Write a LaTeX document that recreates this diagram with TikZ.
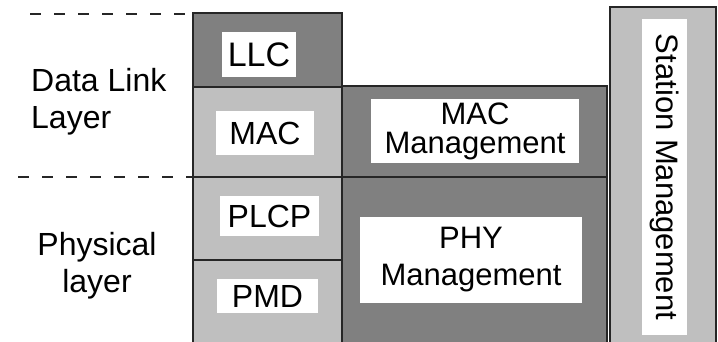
\documentclass[tikz,border=0pt]{standalone}
\usepackage{fontspec}
\setmainfont{Liberation Sans}
\usepackage{tikz}

\tikzset{
  darkcell/.style={fill=black!50, draw=black!85, line width=1.2pt},
  lightcell/.style={fill=black!25, draw=black!85, line width=1.2pt},
  tag/.style={fill=white, inner sep=0pt, align=center, font=\fontsize{32}{30}\selectfont},
  sidetext/.style={inner sep=0pt, font=\fontsize{32}{37}\selectfont},
  layerline/.style={dashed, dash pattern=on 11pt off 13pt, line width=1.1pt, black!85}
}

\begin{document}
\begin{tikzpicture}[x=1pt,y=-1pt]

  % Page size and clip at the bottom
  \useasboundingbox (0,0) rectangle (718,341);
  \clip (0,0) rectangle (718,341);

  % Left stack: LLC, MAC, PLCP, PMD
  \filldraw[darkcell] (193,13) rectangle (342,87);
  \filldraw[lightcell] (193,87) rectangle (342,177);
  \filldraw[lightcell] (193,177) rectangle (342,260);
  \filldraw[lightcell] (193,260) rectangle (342,350);

  % Management column
  \filldraw[darkcell] (342,86) rectangle (607,177);
  \filldraw[darkcell] (342,177) rectangle (607,350);

  % Station management bar
  \filldraw[lightcell] (610,7) rectangle (716,350);

  % Dashed layer borders
  \coordinate (topL) at (30,14);
  \coordinate (topR) at (193,14);
  \coordinate (midL) at (18,177);
  \coordinate (midR) at (193,177);
  \draw[layerline] (topL) -- (topR);
  \draw[layerline] (midL) -- (midR);

  % Layer names
  \node[sidetext, anchor=west, align=left] (dll) at (31,102) {Data Link\\ Layer};
  \node[sidetext, align=center] (phy) at (97,266) {Physical\\ layer};

  % Sublayer tags
  \node[tag, minimum width=74pt, minimum height=45pt, font=\fontsize{34}{34}\selectfont] (llc) at (259,54.5) {LLC};
  \node[tag, minimum width=98pt, minimum height=44pt] (mac) at (265,133) {MAC};
  \node[tag, minimum width=99pt, minimum height=40pt] (plcp) at (269.5,216) {PLCP};
  \node[tag, minimum width=101pt, minimum height=34pt] (pmd) at (267.5,296) {PMD};

  % Management tags
  \node[tag, minimum width=208pt, minimum height=64pt, font=\fontsize{31}{29}\selectfont] (macmgmt) at (475,131) {MAC\\ Management};
  \node[tag, minimum width=222pt, minimum height=86pt, font=\fontsize{31}{37}\selectfont] (phymgmt) at (471,260) {PHY\\ Management};
  \node[tag, rotate=-90, minimum width=316pt, minimum height=45pt, font=\fontsize{31}{31}\selectfont] (stamgmt) at (664.5,177) {Station Management};

\end{tikzpicture}
\end{document}
